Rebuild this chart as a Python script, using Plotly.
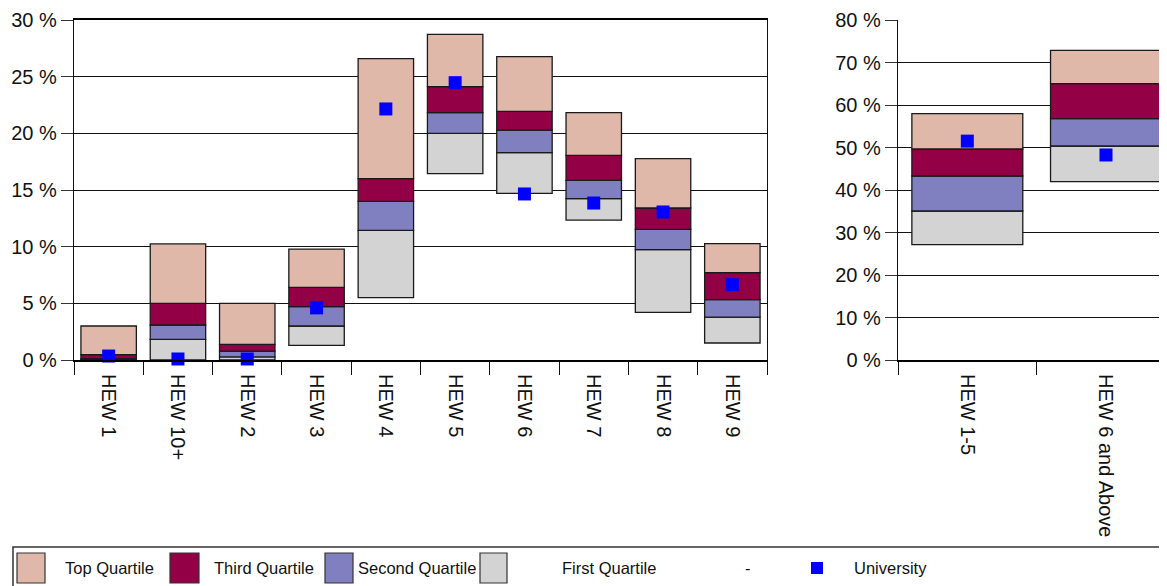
import plotly.graph_objects as go

# The page body has an 8px margin, so the figure is drawn 8px in from the window edge.
OFF = 8
W, H = 1167 - OFF, 586 - OFF

# ---------------- data ----------------
left_categories = ["HEW 1", "HEW 10+", "HEW 2", "HEW 3", "HEW 4",
                   "HEW 5", "HEW 6", "HEW 7", "HEW 8", "HEW 9"]
left_min = [0.0, 0.0, 0.0, 1.29, 5.5, 16.44, 14.7, 12.35, 4.21, 1.5]
left_q1 = [0.05, 1.82, 0.27, 3.0, 11.44, 20.0, 18.29, 14.24, 9.74, 3.79]
left_q2 = [0.12, 3.09, 0.79, 4.71, 14.0, 21.82, 20.29, 15.85, 11.53, 5.32]
left_q3 = [0.47, 5.0, 1.38, 6.41, 16.0, 24.12, 21.94, 18.06, 13.41, 7.71]
left_max = [3.0, 10.24, 5.0, 9.79, 26.6, 28.74, 26.76, 21.82, 17.76, 10.26]
left_university = [0.35, 0.09, 0.09, 4.6, 22.15, 24.47, 14.65, 13.85, 13.06, 6.65]

right_categories = ["HEW 1-5", "HEW 6 and Above"]
right_min = [27.14, 41.96]
right_q1 = [35.06, 50.35]
right_q2 = [43.3, 56.78]
right_q3 = [49.65, 65.02]
right_max = [57.96, 72.86]
right_university = [51.5, 48.24]

series_names = ["First Quartile", "Second Quartile", "Third Quartile", "Top Quartile"]
series_colors = ["#D3D3D3", "#8080C0", "#930045", "#DFB8AA"]
univ_color = "#0000FF"

FONT = "Liberation Sans, Arial, sans-serif"

fig = go.Figure()


def add_group(cats, mn, q1, q2, q3, mx, univ, xa, ya):
    bounds = [mn, q1, q2, q3, mx]
    for i, name in enumerate(series_names):
        lo = bounds[i]
        hi = bounds[i + 1]
        fig.add_trace(go.Bar(
            x=cats, y=[h - l for h, l in zip(hi, lo)], base=lo,
            name=name, width=0.8, xaxis=xa, yaxis=ya,
            marker=dict(color=series_colors[i], line=dict(color="#1a1a1a", width=1.3)),
            showlegend=False,
        ))
    fig.add_trace(go.Scatter(
        x=cats, y=univ, mode="markers", name="University", xaxis=xa, yaxis=ya,
        marker=dict(symbol="square", size=13, color=univ_color, line=dict(width=0)),
        showlegend=False, cliponaxis=False,
    ))


add_group(left_categories, left_min, left_q1, left_q2, left_q3, left_max,
          left_university, "x", "y")
add_group(right_categories, right_min, right_q1, right_q2, right_q3, right_max,
          right_university, "x2", "y2")


def px(x):
    return (x - OFF) / W


def py(y):
    return 1 - (y - OFF) / H


ydom = [py(360), py(20)]
tickfont = dict(family=FONT, size=20, color="#111111")

common_x = dict(type="category", tickangle=90, ticks="outside", tickson="boundaries",
                ticklen=13, tickwidth=1.3, tickcolor="#111111", showline=True,
                linecolor="#000000", linewidth=2, showgrid=False, tickfont=tickfont,
                ticklabelstandoff=8, automargin=False, fixedrange=True)
common_y = dict(ticks="outside", ticklen=12, tickwidth=1.3, tickcolor="#333333",
                showgrid=True, gridcolor="#111111", gridwidth=1.2, showline=True,
                linecolor="#111111", linewidth=1.3, ticksuffix=" %", tickfont=tickfont,
                zeroline=False, automargin=False, fixedrange=True)

fig.update_layout(
    width=W, height=H,
    margin=dict(l=0, r=0, t=0, b=0),
    paper_bgcolor="white", plot_bgcolor="white",
    barmode="overlay", showlegend=False,
    xaxis=dict(domain=[px(74), px(767)], range=[-0.5, 9.5], mirror=True, **common_x),
    yaxis=dict(domain=ydom, range=[0, 30], dtick=5, mirror=True, **common_y),
    xaxis2=dict(domain=[px(898), 1.0], range=[-0.5, 1.44], anchor="y2", **common_x),
    yaxis2=dict(domain=ydom, range=[0, 80], dtick=10, anchor="x2", **common_y),
)

# ---------------- legend (drawn) ----------------
LEGFONT = dict(family=FONT, size=16.5, color="#111111")
shapes = [dict(type="rect", xref="paper", yref="paper",
               x0=px(13), x1=px(1200), y0=py(547), y1=py(600),
               line=dict(color="#333333", width=1.5), fillcolor="white", layer="above")]
annotations = []
legend_items = [
    ("Top Quartile", series_colors[3], 17, 45, 63),
    ("Third Quartile", series_colors[2], 170, 199, 212),
    ("Second Quartile", series_colors[1], 325, 353, 356),
    ("First Quartile", series_colors[0], 480, 507, 560),
]
for name, col, x0, x1, tx in legend_items:
    shapes.append(dict(type="rect", xref="paper", yref="paper",
                       x0=px(x0), x1=px(x1), y0=py(583), y1=py(553),
                       line=dict(color="#333333", width=1.2), fillcolor=col, layer="above"))
    annotations.append(dict(text=name, xref="paper", yref="paper", x=px(tx), y=py(568),
                            xanchor="left", yanchor="middle", showarrow=False,
                            font=LEGFONT))
annotations.append(dict(text="-", xref="paper", yref="paper", x=px(743), y=py(568),
                        xanchor="left", yanchor="middle", showarrow=False, font=LEGFONT))
shapes.append(dict(type="rect", xref="paper", yref="paper",
                   x0=px(811), x1=px(823), y0=py(574), y1=py(562),
                   line=dict(width=0), fillcolor=univ_color, layer="above"))
annotations.append(dict(text="University", xref="paper", yref="paper", x=px(852), y=py(568),
                        xanchor="left", yanchor="middle", showarrow=False, font=LEGFONT))

fig.update_layout(shapes=shapes, annotations=annotations)

fig.write_html("out.html")
